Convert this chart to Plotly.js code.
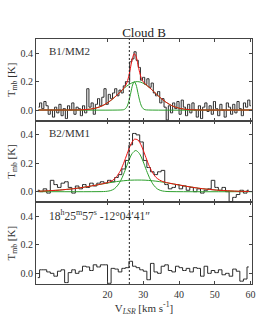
<!DOCTYPE html>
<html><head><meta charset="utf-8">
<script src="https://cdn.plot.ly/plotly-3.0.1.min.js"></script>
<style>html,body{margin:0;padding:0;background:#fff}#chart{width:280px;height:320px}</style>
</head><body><div id="chart"></div>
<script>
const chartTitle = "Cloud B";
const panelLabels = ["B1/MM2", "B2/MM1", "18<sup>h</sup>25<sup>m</sup>57<sup>s</sup> -12°04′41″"];
const xTickVals = [20, 30, 40, 50, 60];
const yTickVals = [0, 0.2, 0.4];
const systemicVelocity = 26.1;

// B1/MM2 spectrum: channel grid and Tmb per channel
const b1Start = 0.7, b1Width = 0.6;
const b1Tmb = [0.02,0.05,0.01,0.06,0.03,-0.03,0.00,-0.05,0.02,-0.02,
  0.04,-0.04,0.01,-0.06,0.03,0.00,0.05,-0.03,0.02,0.01,
  -0.04,0.03,-0.02,0.15,0.02,0.05,-0.03,0.04,0.08,0.03,
  0.09,0.15,0.04,0.11,0.08,0.12,0.15,0.10,0.14,0.12,
  0.17,0.20,0.20,0.34,0.36,0.41,0.35,0.30,0.21,0.23,
  0.18,0.22,0.16,0.19,0.12,0.10,0.13,0.05,0.08,0.02,
  -0.07,0.03,-0.02,0.05,0.01,0.06,-0.03,0.07,0.02,-0.04,
  0.04,-0.02,0.05,0.00,-0.05,0.03,-0.06,0.02,0.05,-0.01,
  0.03,-0.03,0.06,0.01,-0.04,0.04,0.00,-0.05,0.05,0.02,
  -0.03,0.04,-0.02,0.06,0.01,-0.04,0.05,0.02,0.07,0.03];

// B2/MM1 spectrum
const b2Start = 0.5, b2Width = 1.0;
const b2Tmb = [0.01,0.00,0.02,-0.01,0.08,0.05,0.03,0.06,0.07,0.03,
  -0.01,0.04,0.02,0.05,0.03,0.06,0.04,0.06,0.07,0.06,
  0.08,0.07,0.10,0.12,0.16,0.22,0.33,0.41,0.40,0.35,
  0.22,0.17,0.14,0.12,0.14,0.15,0.05,0.02,0.03,0.05,
  0.02,0.04,0.01,0.03,0.00,0.02,-0.01,0.01,0.02,0.08,
  0.03,0.01,0.03,0.00,-0.07,-0.04,-0.02,0.01,-0.01,0.01];

// Off position spectrum
const offStart = 0.5, offWidth = 1.0;
const offTmb = [-0.03,0.025,0.025,0.01,0.00,-0.02,0.015,0.025,-0.065,0.005,
  0.025,0.00,0.015,0.05,0.045,0.02,0.06,0.045,0.06,0.06,
  -0.07,0.035,0.03,0.01,0.035,0.04,0.085,0.05,0.04,0.025,
  0.015,-0.045,0.07,0.01,0.00,0.05,0.06,0.02,0.01,0.05,
  0.04,0.02,0.035,0.01,0.04,0.035,-0.02,0.05,0.00,0.02,
  0.005,0.025,-0.01,0.00,-0.02,0.03,0.015,-0.055,-0.04,0.045];

// B1 fit components
const b1NarrowV = [0.7,23.5,24.5,25,25.5,26,26.5,27,27.5,28,28.5,29,29.5,30,30.5,31.5,60.4];
const b1NarrowT = [0,0,0.002,0.009,0.027,0.065,0.121,0.176,0.200,0.176,0.121,0.065,0.027,0.009,0.002,0,0];
const b1BroadV = [0.7,12.3,14.3,16.3,18.3,19.3,20.3,21.3,22.3,23.3,24.3,25.3,26.3,27.3,28.3,29.3,30.3,31.3,32.3,33.3,34.3,35.3,36.3,37.3,38.3,40.3,42.3,44.3,60.4];
const b1BroadT = [0,0.001,0.004,0.011,0.027,0.040,0.056,0.075,0.097,0.121,0.145,0.167,0.184,0.196,0.200,0.196,0.184,0.167,0.145,0.121,0.097,0.075,0.056,0.040,0.027,0.011,0.004,0.001,0];
const b1FitV = [0.7,12.3,14.3,16.3,18.3,20.3,22.3,23.3,24.3,25,25.5,26,26.5,27,27.5,28,28.5,29,29.5,30,30.5,31.3,32.3,33.3,34.3,36.3,38.3,40.3,42.3,44.3,60.4];
const b1FitT = [0,0.001,0.004,0.011,0.027,0.056,0.097,0.121,0.146,0.170,0.198,0.245,0.308,0.369,0.397,0.376,0.321,0.263,0.221,0.198,0.184,0.167,0.145,0.121,0.097,0.056,0.027,0.011,0.004,0.001,0];

// B2 fit components
const b2NarrowV = [0.5,18.9,19.9,20.9,21.9,22.9,23.9,24.9,25.9,26.9,27.9,28.9,29.9,30.9,31.9,32.9,33.9,34.9,35.9,36.9,60.5];
const b2NarrowT = [0,0.001,0.003,0.008,0.020,0.046,0.089,0.149,0.216,0.269,0.290,0.269,0.216,0.149,0.089,0.046,0.020,0.008,0.003,0.001,0];
const b2BroadV = [0.5,2.5,4.5,6.5,8.5,10.5,12.5,14.5,16.5,18.5,20.5,22.5,24.5,26.5,28.5,30.5,32.5,34.5,36.5,38.5,40.5,42.5,44.5,46.5,48.5,50.5,52.5,54.5,56.5,58.5,60.5];
const b2BroadT = [0.003,0.005,0.008,0.011,0.016,0.021,0.028,0.036,0.045,0.054,0.063,0.071,0.077,0.081,0.082,0.081,0.077,0.071,0.063,0.054,0.045,0.036,0.028,0.021,0.016,0.011,0.008,0.005,0.003,0.002,0.001];
const b2FitV = [0.5,2.5,4.5,6.5,8.5,10.5,12.5,14.5,16.5,18.5,19.5,20.5,21.5,22.5,23.5,24.5,25.5,26.5,27.5,28.5,29.5,30.5,31.5,32.5,33.5,34.5,35.5,36.5,38.5,40.5,42.5,44.5,46.5,48.5,50.5,52.5,54.5,56.5,58.5,60.5];
const b2FitT = [0.003,0.005,0.008,0.011,0.016,0.021,0.028,0.036,0.045,0.055,0.061,0.068,0.081,0.105,0.143,0.200,0.268,0.332,0.369,0.364,0.322,0.257,0.190,0.138,0.102,0.083,0.071,0.064,0.054,0.045,0.036,0.028,0.021,0.016,0.011,0.008,0.005,0.003,0.002,0.001];

const channels = (start, width, vals) => vals.map((_, i) => start + i * width);

const FONT = "Liberation Serif, Times New Roman, serif";
const DATA_C = "#2a2a2a", GREEN = "#2ea02e", RED = "#ee1111";

function spec(start, width, vals, xa, ya) {
  return {x: channels(start, width, vals), y: vals, xaxis: xa, yaxis: ya, type: "scatter",
    mode: "lines", line: {shape: "hvh", color: DATA_C, width: 1}, hoverinfo: "skip", showlegend: false};
}
function fit(xs, ys, color, xa, ya) {
  return {x: xs, y: ys, xaxis: xa, yaxis: ya, type: "scatter", mode: "lines",
    line: {shape: "spline", smoothing: 0.8, color: color, width: 1}, hoverinfo: "skip", showlegend: false};
}

const traces = [
  spec(b1Start, b1Width, b1Tmb, "x3", "y"),
  fit(b1NarrowV, b1NarrowT, GREEN, "x3", "y"),
  fit(b1BroadV, b1BroadT, GREEN, "x3", "y"),
  fit(b1FitV, b1FitT, RED, "x3", "y"),
  spec(b2Start, b2Width, b2Tmb, "x2", "y2"),
  fit(b2NarrowV, b2NarrowT, GREEN, "x2", "y2"),
  fit(b2BroadV, b2BroadT, GREEN, "x2", "y2"),
  fit(b2FitV, b2FitT, RED, "x2", "y2"),
  spec(offStart, offWidth, offTmb, "x", "y3")
];

const xRange = [0, 60.4];
const yRange = [-0.075, 0.5];
const axisLine = {showline: true, linecolor: "#444", linewidth: 1, mirror: "ticks", ticks: "inside",
  ticklen: 3, tickcolor: "#444", zeroline: false, showgrid: false};
function xax(anchor, labels) {
  return Object.assign({}, axisLine, {range: xRange, anchor: anchor, tickvals: xTickVals,
    showticklabels: labels, tickfont: {family: FONT, size: 10, color: "#333"}, ticklabelstandoff: 1});
}
function yax(domain, anchor) {
  return Object.assign({}, axisLine, {domain: domain, anchor: anchor, range: yRange, tickvals: yTickVals,
    tickformat: ".1f", tickfont: {family: FONT, size: 10, color: "#333"},
    title: {text: "T<sub>mb</sub> [K]", font: {family: FONT, size: 11, color: "#333"}, standoff: 2}});
}

const layout = {
  width: 280, height: 320,
  margin: {l: 36, r: 28, t: 39, b: 36, pad: 0},
  paper_bgcolor: "#fff", plot_bgcolor: "#fff",
  font: {family: FONT, color: "#222"},
  title: {text: chartTitle, font: {family: FONT, size: 13, color: "#222"}, x: 0.5, xref: "paper",
    y: 1 - 32 / 320, yref: "container", yanchor: "middle"},
  xaxis: Object.assign(xax("y3", true), {title: {text: "V<sub><i>LSR</i></sub> [km s<sup>-1</sup>]",
    font: {family: FONT, size: 11, color: "#333"}, standoff: 2}}),
  xaxis2: Object.assign(xax("y2", false), {matches: "x"}),
  xaxis3: Object.assign(xax("y", false), {matches: "x"}),
  yaxis: yax([2/3, 1], "x3"),
  yaxis2: yax([1/3, 2/3], "x2"),
  yaxis3: yax([0, 1/3], "x"),
  shapes: [{type: "line", xref: "x", yref: "paper", x0: systemicVelocity, x1: systemicVelocity, y0: 0, y1: 1,
    line: {color: "#222", width: 1, dash: "2px,2px"}}],
  annotations: panelLabels.map((t, i) => ({
    text: t, xref: ["x3 domain", "x2 domain", "x domain"][i], yref: ["y domain", "y2 domain", "y3 domain"][i],
    x: 0.05, y: 0.85, xanchor: "left", yanchor: "middle", showarrow: false,
    font: {family: FONT, size: i === 2 ? 11.5 : 11, color: "#333"}
  }))
};

Plotly.newPlot("chart", traces, layout, {displayModeBar: false});
</script>
</body></html>
